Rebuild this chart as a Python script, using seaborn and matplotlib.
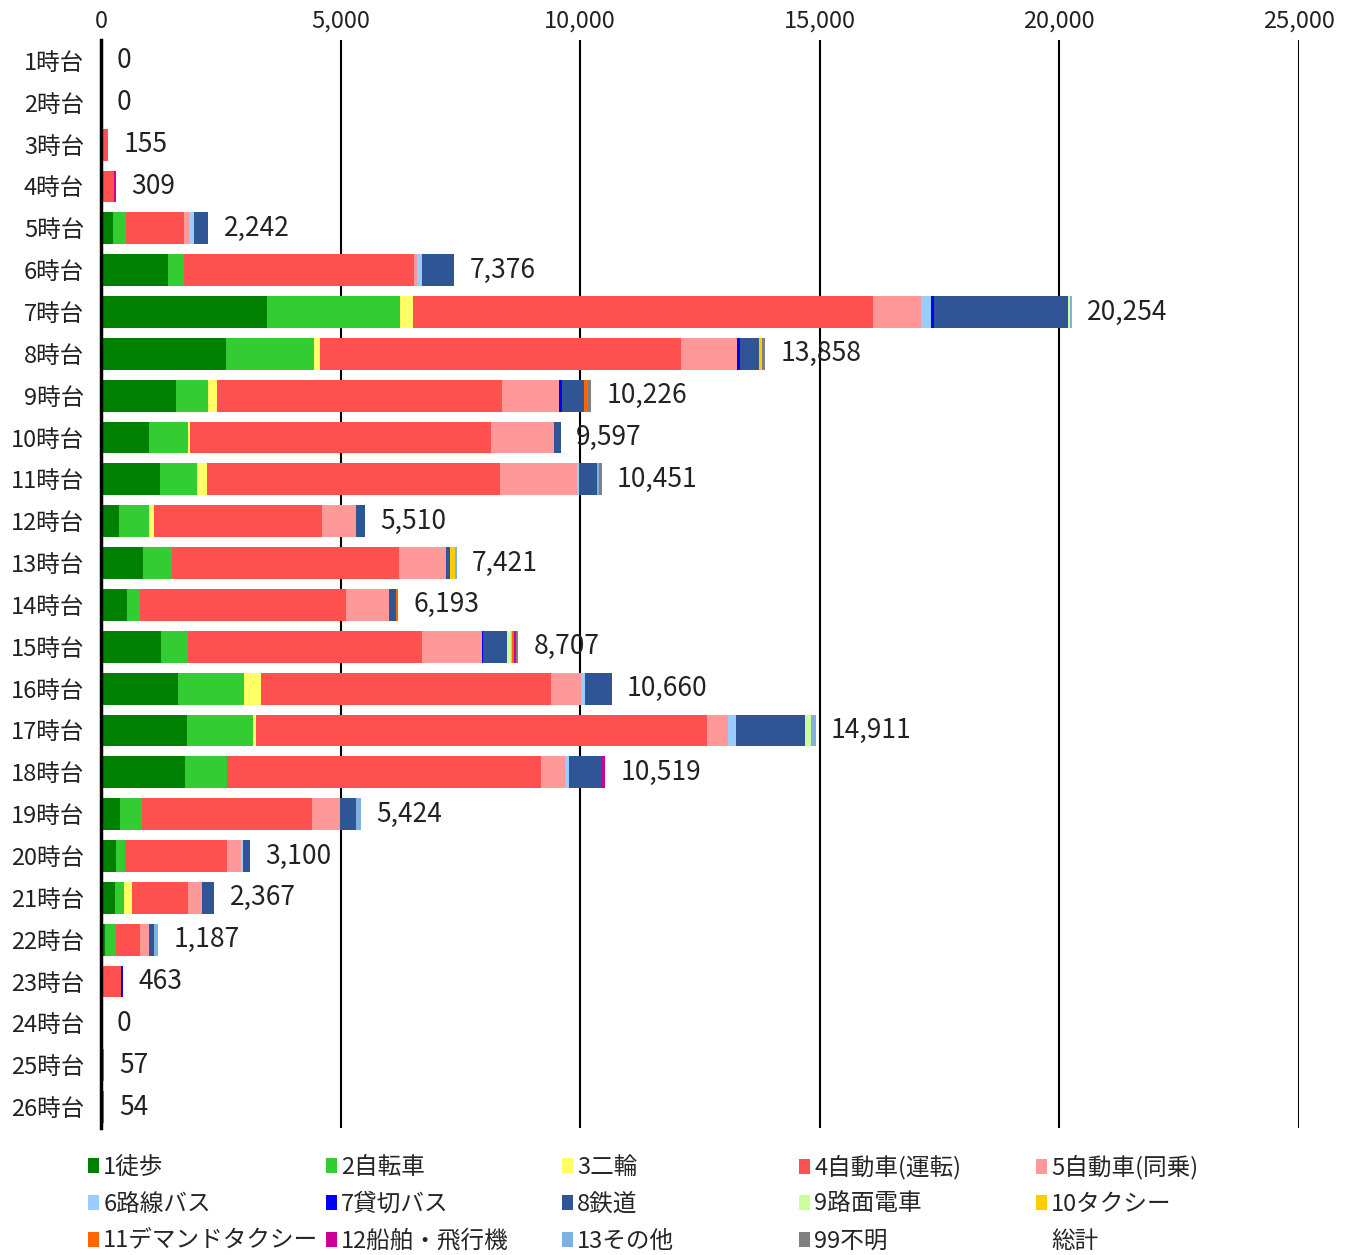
import matplotlib
matplotlib.use("Agg")
import matplotlib.pyplot as plt
from matplotlib.patches import Patch
import seaborn as sns
import pandas as pd

hours = [f"{h}時台" for h in range(1, 27)]

walk = [0, 0, 0, 0, 250, 1391, 3463, 2604, 1565, 1001, 1231, 369, 883, 549, 1252, 1598, 1801, 1757, 396, 313, 299, 83, 0, 0, 0, 0]
bike = [0, 0, 0, 0, 270, 334, 2775, 1850, 674, 820, 779, 633, 605, 271, 561, 1388, 1369, 870, 466, 195, 188, 236, 0, 0, 57, 0]
moto = [0, 0, 10, 0, 0, 0, 278, 119, 182, 35, 209, 111, 0, 0, 0, 353, 59, 0, 0, 0, 153, 0, 0, 0, 0, 0]
car = [0, 0, 145, 280, 1220, 4805, 9594, 7530, 5954, 6287, 6110, 3493, 4724, 4295, 4893, 6048, 9426, 6558, 3547, 2126, 1185, 486, 421, 0, 0, 54]
passenger = [0, 0, 0, 0, 100, 63, 1010, 1171, 1175, 1314, 1614, 723, 980, 890, 1237, 634, 424, 505, 570, 278, 285, 202, 0, 0, 0, 0]
bus = [0, 0, 0, 0, 110, 97, 200, 0, 0, 0, 35, 0, 0, 0, 0, 71, 167, 86, 0, 56, 0, 0, 0, 0, 0, 0]
charter = [0, 0, 0, 0, 0, 0, 67, 54, 77, 0, 0, 0, 0, 0, 36, 0, 0, 0, 0, 0, 0, 0, 42, 0, 0, 0]
rail = [0, 0, 0, 0, 292, 686, 2794, 411, 459, 140, 382, 181, 83, 160, 499, 568, 1448, 670, 348, 132, 257, 90, 0, 0, 0, 0]
tram = [0, 0, 0, 0, 0, 0, 45, 0, 0, 0, 0, 0, 0, 0, 70, 0, 129, 0, 0, 0, 0, 0, 0, 0, 0, 0]
taxi = [0, 0, 0, 0, 0, 0, 0, 65, 0, 0, 0, 0, 104, 0, 30, 0, 0, 0, 0, 0, 0, 0, 0, 0, 0, 0]
demand = [0, 0, 0, 0, 0, 0, 0, 0, 69, 0, 0, 0, 0, 28, 40, 0, 0, 0, 0, 0, 0, 0, 0, 0, 0, 0]
ship = [0, 0, 0, 29, 0, 0, 0, 0, 0, 0, 0, 0, 0, 0, 40, 0, 0, 73, 0, 0, 0, 0, 0, 0, 0, 0]
other = [0, 0, 0, 0, 0, 0, 28, 0, 0, 0, 42, 0, 42, 0, 0, 0, 88, 0, 97, 0, 0, 90, 0, 0, 0, 0]
unknown = [0, 0, 0, 0, 0, 0, 0, 54, 71, 0, 49, 0, 0, 0, 49, 0, 0, 0, 0, 0, 0, 0, 0, 0, 0, 0]

totals = [0, 0, 155, 309, 2242, 7376, 20254, 13858, 10226, 9597, 10451, 5510, 7421, 6193,
          8707, 10660, 14911, 10519, 5424, 3100, 2367, 1187, 463, 0, 57, 54]

series_names = ["1徒歩", "2自転車", "3二輪", "4自動車(運転)", "5自動車(同乗)",
                "6路線バス", "7貸切バス", "8鉄道", "9路面電車", "10タクシー",
                "11デマンドタクシー", "12船舶・飛行機", "13その他", "99不明"]
colors = ["#008000", "#33cc33", "#ffff66", "#ff5050", "#ff9999",
          "#99ccff", "#0000ff", "#2f5597", "#ccff99", "#ffcc00",
          "#ff6600", "#cc0099", "#7fb0e0", "#808080"]

df = pd.DataFrame(
    dict(zip(series_names, [walk, bike, moto, car, passenger, bus, charter, rail,
                            tram, taxi, demand, ship, other, unknown])),
    index=hours,
)
cum = df.cumsum(axis=1)

sns.set_theme(style="white")
plt.rcParams["font.family"] = ["Noto Sans CJK JP", "DejaVu Sans"]

fig = plt.figure(figsize=(13.48, 12.55), dpi=100)
ax = fig.add_axes([101 / 1348, 1 - 1128 / 1255, 1198 / 1348, 1088 / 1255])

# 累積値を後ろから重ね描きして積み上げ棒にする
for name, col in reversed(list(zip(series_names, colors))):
    sns.barplot(x=cum[name].values, y=hours, orient="h", color=col,
                saturation=1, width=0.76, linewidth=0, ax=ax)

for i, t in enumerate(totals):
    ax.annotate(f"{t:,}", xy=(t, i), xytext=(11, 0), textcoords="offset points",
                ha="left", va="center", fontsize=19, color="#222222")

ax.set_xlim(0, 25000)
ax.set_ylim(25.5, -0.5)
ax.set_xticks(range(0, 25001, 5000))
ax.set_xticklabels([f"{v:,}" for v in range(0, 25001, 5000)])
ax.xaxis.tick_top()
ax.tick_params(axis="x", length=0, labelsize=17, pad=5, colors="#222222")
ax.tick_params(axis="y", length=0, labelsize=17, pad=12, colors="#222222")
ax.set_xlabel("")
ax.set_ylabel("")
ax.xaxis.grid(True, color="black", linewidth=1.5)
ax.set_axisbelow(True)
for s in ["top", "right", "bottom"]:
    ax.spines[s].set_visible(False)
ax.spines["left"].set_color("black")
ax.spines["left"].set_linewidth(2.5)

# 凡例: 5列×3行、各項目を個別に配置して行をそろえる
handles = [Patch(facecolor=c, edgecolor="none") for c in colors]
handles.append(Patch(facecolor="none", edgecolor="none"))
labels = series_names + ["総計"]

col_x = [88, 326, 562, 799, 1036]
row_y = [1167, 1204, 1241]
for k, (h, lab) in enumerate(zip(handles, labels)):
    r, c = divmod(k, 5)
    fig.legend([h], [lab], loc="center left",
               bbox_to_anchor=(col_x[c] / 1348, 1 - row_y[r] / 1255),
               frameon=False, fontsize=17, handlelength=0.45, handleheight=0.6,
               handletextpad=0.2, borderpad=0, borderaxespad=0)

fig.savefig("out.png", dpi=100)
plt.close(fig)
